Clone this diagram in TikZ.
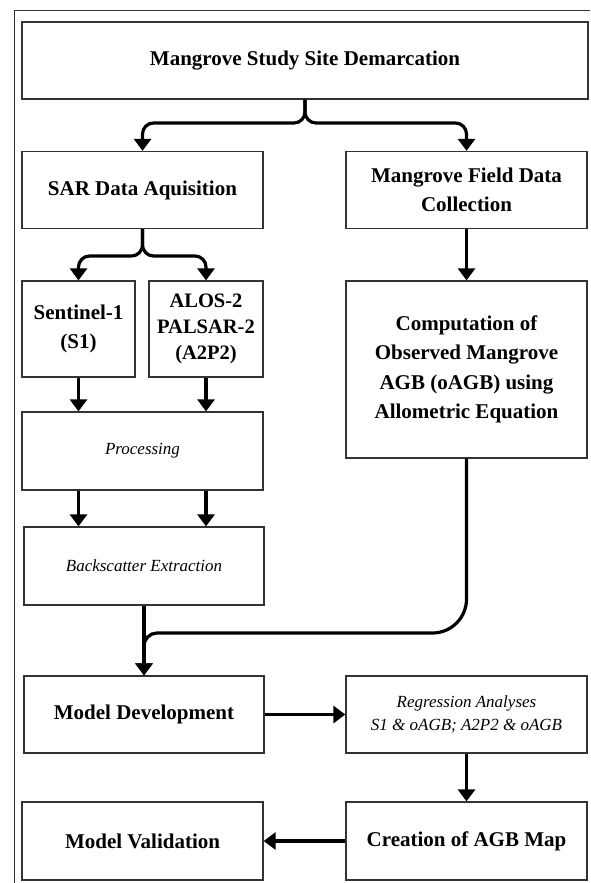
\documentclass[tikz,border=0pt]{standalone}
\usepackage{fontspec}
\setmainfont{Liberation Serif}
\usetikzlibrary{arrows.meta}
\begin{document}
\begin{tikzpicture}[x=1pt,y=-1pt,
  box/.style={draw=black!80, line width=1.3pt, rectangle, align=center, inner sep=0pt},
  bt/.style={font=\fontsize{21}{29.5}\selectfont\bfseries},
  bts/.style={font=\fontsize{20.5}{26}\selectfont\bfseries},
  it/.style={font=\fontsize{17}{23}\selectfont\itshape},
  conn/.style={line width=3.2pt, -{Triangle[width=17pt,length=12pt]}, rounded corners=11pt},
  plainconn/.style={line width=3.2pt}]
\useasboundingbox (0,0) rectangle (590,883);
\draw[line width=1pt, black!80] (14,883) -- (14,11) -- (590,11);

\node[box,bt,minimum width=566pt,minimum height=77pt] (top) at (305,60.5) {Mangrove Study Site Demarcation};
\node[box,bt,minimum width=241pt,minimum height=77pt] (sar) at (142.5,190) {SAR Data Aquisition};
\node[box,bt,minimum width=241pt,minimum height=77pt] (field) at (466.5,190) {Mangrove Field Data\\Collection};
\node[box,bt,minimum width=113pt,minimum height=96pt] (sen) at (78.5,329) {Sentinel-1\\(S1)};
\node[box,bts,minimum width=114pt,minimum height=96pt] (alos) at (206,329) {ALOS-2\\PALSAR-2\\(A2P2)};
\node[box,bt,minimum width=241pt,minimum height=177pt] (comp) at (466.5,369.5) {Computation of\\Observed Mangrove\\AGB (oAGB) using\\Allometric Equation};
\node[box,it,minimum width=241pt,minimum height=78pt] (proc) at (142.5,451) {Processing};
\node[box,it,minimum width=240pt,minimum height=78pt] (back) at (144,566) {Backscatter Extraction};
\node[box,bt,minimum width=240pt,minimum height=77pt] (md) at (144,714.5) {Model Development};
\node[box,it,minimum width=241pt,minimum height=77pt] (reg) at (466.5,714.5) {Regression Analyses\\S1 \& oAGB; A2P2 \& oAGB};
\node[box,bt,minimum width=241pt,minimum height=78pt] (cre) at (466.5,841) {Creation of AGB Map};
\node[box,bt,minimum width=241pt,minimum height=78pt] (mv) at (142.5,841) {Model Validation};

\coordinate (j1) at (305,123);
\coordinate (j2) at (142.5,256);
\coordinate (j3) at (230,633);
\coordinate (j4) at (144,633);

\draw[conn] (top.south) -- (j1) -| (sar.north);
\draw[conn] (top.south) -- (j1) -| (field.north);
\draw[conn] (sar.south) -- (j2) -| (sen.north);
\draw[conn] (sar.south) -- (j2) -| (alos.north);
\draw[conn] (field.south) -- (comp.north);
\draw[conn] (sen.south) -- (sen.south |- proc.north);
\draw[conn] (alos.south) -- (alos.south |- proc.north);
\draw[conn] (sen.south |- proc.south) -- (sen.south |- back.north);
\draw[conn] (alos.south |- proc.south) -- (alos.south |- back.north);
\draw[conn] (back.south) -- (md.north);
\draw[plainconn, rounded corners=34pt] (comp.south) |- (j3);
\draw[conn, rounded corners=13pt] (j3) -- (j4) -- (md.north);
\draw[conn] (md.east) -- (reg.west);
\draw[conn] (reg.south) -- (cre.north);
\draw[conn] (cre.west) -- (mv.east);
\end{tikzpicture}
\end{document}
